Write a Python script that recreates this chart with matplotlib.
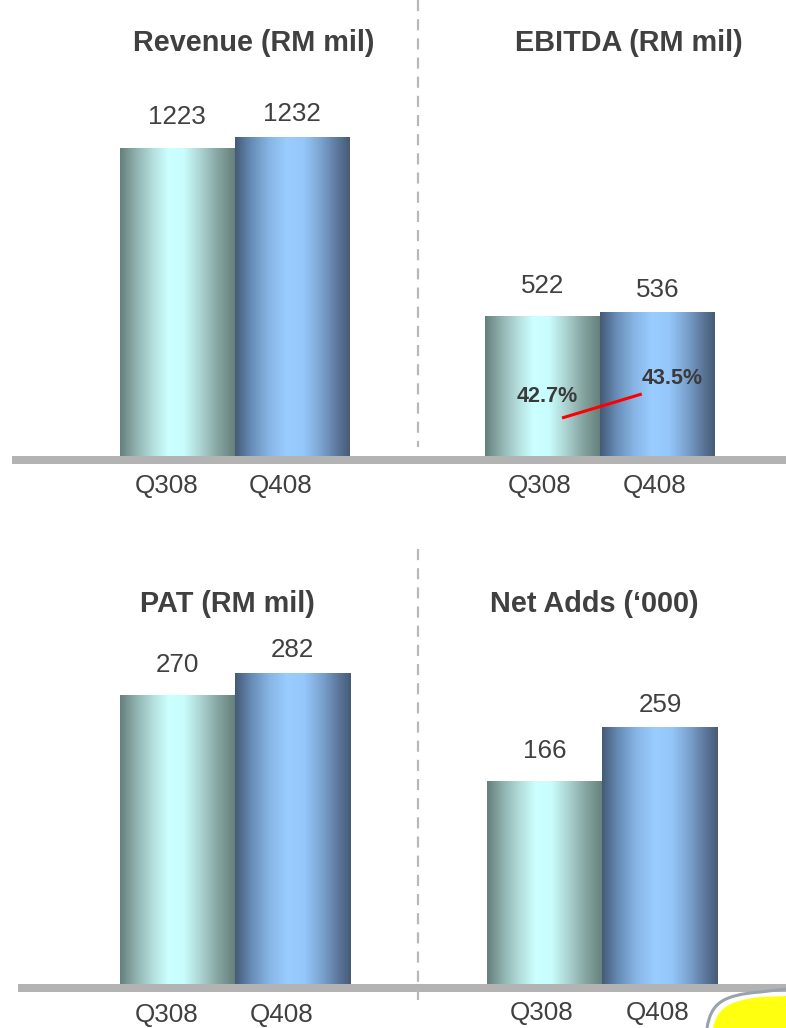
import numpy as np
import matplotlib
matplotlib.use('Agg')
import matplotlib.pyplot as plt
from matplotlib.colors import LinearSegmentedColormap
from matplotlib.patches import Rectangle, PathPatch
from matplotlib.path import Path

plt.rcParams['font.family'] = ['Liberation Sans', 'DejaVu Sans']
plt.rcParams['lines.scale_dashes'] = False

# quarterly figures
quarters = ['Q308', 'Q408']
revenue = [1223, 1232]
ebitda = [522, 536]
pat = [270, 282]
net_adds = [166, 259]
ebitda_margin = [42.7, 43.5]
titles = ['Revenue (RM mil)', 'EBITDA (RM mil)', 'PAT (RM mil)', 'Net Adds (\u2018000)']

W, H = 786, 1028
TXT = '#404040'
PX = 72 / 100.0   # pixels -> points

cyan_cm = LinearSegmentedColormap.from_list('cyanbar', [
    (0.0, '#657f7b'), (0.15, '#93b6b3'), (0.3, '#b6e2e0'), (0.42, '#ccffff'),
    (0.56, '#c9fcfc'), (0.7, '#acd4d2'), (0.85, '#86a6a2'), (1.0, '#66807b')])
blue_cm = LinearSegmentedColormap.from_list('bluebar', [
    (0.0, '#455a77'), (0.14, '#678cb6'), (0.3, '#88b6e6'), (0.45, '#99ccff'),
    (0.6, '#95c7fa'), (0.75, '#7ba3d0'), (0.9, '#5b7599'), (1.0, '#465b77')])
grad = np.linspace(0, 1, 256).reshape(1, -1)

fig = plt.figure(figsize=(W / 100, H / 100), dpi=100)
bg = fig.add_axes([0, 0, 1, 1])
bg.set_xlim(0, W)
bg.set_ylim(H, 0)
bg.axis('off')

# floor bands and dashed separators
bg.add_patch(Rectangle((12, 456), W - 12, 7.5, color='#b3b3b3', lw=0))
bg.add_patch(Rectangle((18, 984), W - 18, 8, color='#b3b3b3', lw=0))
bg.plot([418, 418], [0, 447], color='#b8b8b8', lw=1.6, dashes=(8, 5.8))
bg.plot([418, 418], [549, 1000], color='#b8b8b8', lw=1.6, dashes=(8, 5.8))

# bit of the logo peeking in at the corner
verts = [(713, 1028), (717, 1009), (727, 1001), (760, 997), (786, 996),
         (786, 1028), (713, 1028)]
codes = [Path.MOVETO, Path.CURVE4, Path.CURVE4, Path.CURVE4, Path.LINETO,
         Path.LINETO, Path.CLOSEPOLY]
bg.add_patch(PathPatch(Path(verts, codes), facecolor='#ffff10', edgecolor='none'))
edge = Path([(707, 1028), (711, 1003), (723, 995), (760, 992), (786, 989)],
            [Path.MOVETO, Path.CURVE4, Path.CURVE4, Path.CURVE4, Path.LINETO])
bg.add_patch(PathPatch(edge, facecolor='none', edgecolor='#9aa3ad', lw=2.2))

# left, right, floor, top (pixels), ylim, title x/y, tick dx, tick drop
panels = [
    (revenue, 120, 349, 456, 60, (971, 1295), 254, 51, -11, 37),
    (ebitda, 485, 715, 456, 60, (0, 1483), 629, 51, -3, 37),
    (pat, 120, 350, 984, 620, (115.6, 310.6), 227, 612, -11, 38),
    (net_adds, 486.7, 718, 984, 620, (-182.4, 444.6), 594, 612, -3, 36),
]
label_rise = [24, 16]

axes = []
for (vals, x0, x1, floor, top, ylim, tx, ty, tdx, tdrop), title in zip(panels, titles):
    ax = fig.add_axes([x0 / W, (H - floor) / H, (x1 - x0) / W, (floor - top) / H])
    ax.set_facecolor('none')
    ax.axis('off')
    bars = ax.bar(range(len(vals)), [v - ylim[0] for v in vals], bottom=ylim[0],
                  width=1.0, color='none', lw=0)
    for bar, cm in zip(bars, [cyan_cm, blue_cm]):
        bx, by = bar.get_x(), bar.get_y()
        ax.imshow(grad, cmap=cm, aspect='auto', interpolation='bicubic',
                  extent=[bx, bx + bar.get_width(), by, by + bar.get_height()])
    ax.set_xlim(-0.5, 1.5)
    ax.set_ylim(*ylim)
    for i, v in enumerate(vals):
        ax.annotate(str(v), (i, v), xytext=(0, label_rise[i] * PX),
                    textcoords='offset points', ha='center', va='baseline',
                    fontsize=18.7, color=TXT)
        ax.annotate(quarters[i], (i, 0), xycoords=('data', 'axes fraction'),
                    xytext=(tdx * PX, -tdrop * PX), textcoords='offset points',
                    ha='center', va='baseline', fontsize=18.7, color=TXT,
                    annotation_clip=False)
    bg.text(tx, ty, title, ha='center', va='baseline', fontsize=20.8,
            fontweight='bold', color=TXT)
    axes.append(ax)

# EBITDA margin trend on its own scale
mx = fig.add_axes(axes[1].get_position())
mx.set_facecolor('none')
mx.axis('off')
mx.set_xlim(-0.5, 1.5)
mx.set_ylim(41.433, 54.633)
line_x = [0.17, 0.863]
mx.plot(line_x, ebitda_margin, color='#ff0000', lw=2.2, solid_capstyle='butt')
for xx, m, off in zip(line_x, ebitda_margin, [(-15, 21), (30, 15)]):
    mx.annotate(f'{m}%', (xx, m), xytext=(off[0] * PX, off[1] * PX),
                textcoords='offset points', ha='center', va='center',
                fontsize=15.5, fontweight='bold', color='#3a3a3a')

fig.savefig('out.png', dpi=100)
